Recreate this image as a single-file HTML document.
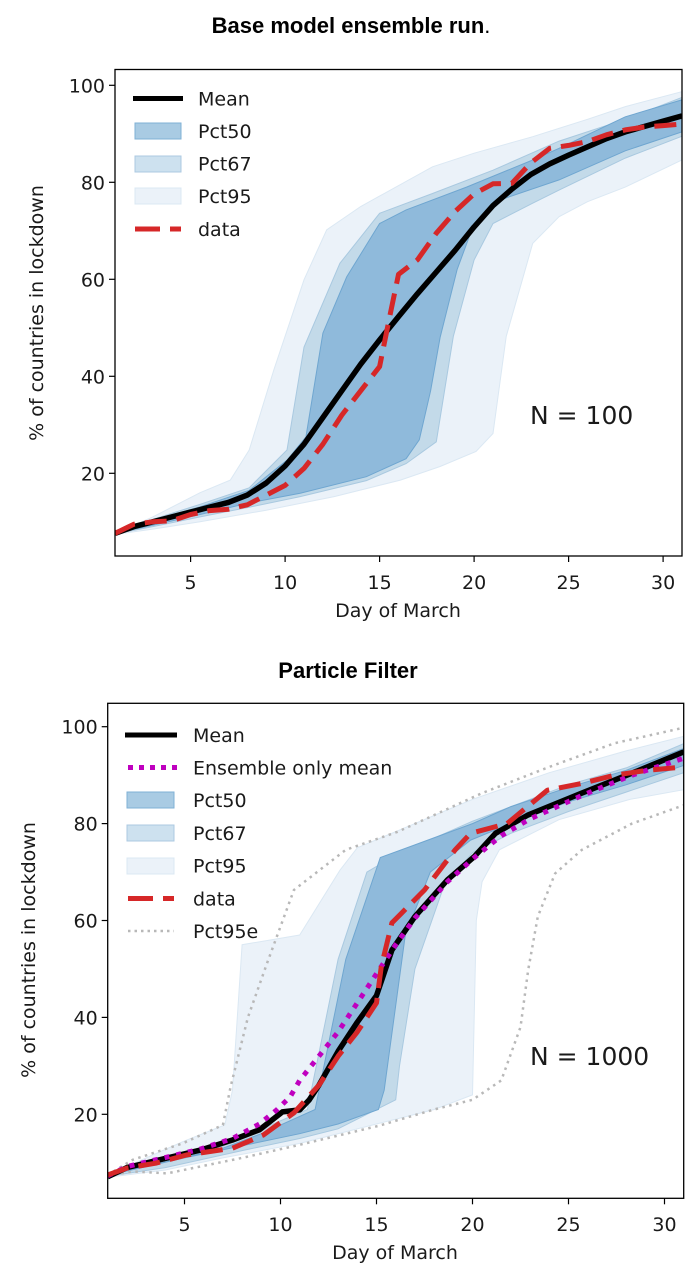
<!DOCTYPE html>
<html><head><meta charset="utf-8"><style>
html,body{margin:0;padding:0;background:#fff;}
svg{display:block;}
text{font-family:"DejaVu Sans","Liberation Sans",sans-serif;fill:#1a1a1a;}
.t{font-family:"Liberation Sans",Arial,sans-serif;font-weight:bold;font-size:22px;fill:#000;}
</style></head><body>
<svg id="s" width="696" height="1285" viewBox="0 0 696 1285" xmlns="http://www.w3.org/2000/svg">
<text class="t" x="351" y="33" text-anchor="middle">Base model ensemble run<tspan font-weight="normal">.</tspan></text>
<text class="t" x="348" y="678" text-anchor="middle">Particle Filter</text>
<defs>
<clipPath id="c1"><rect x="115" y="69.5" width="567" height="486.5"/></clipPath>
<clipPath id="c2"><rect x="107.7" y="703.3" width="576" height="495"/></clipPath>
</defs>
<g id="g1" clip-path="url(#c1)"></g>
<g id="g2" clip-path="url(#c2)"></g>
<rect x="115" y="69.5" width="567" height="486.5" fill="none" stroke="#000" stroke-width="1.3"/>
<rect x="107.7" y="703.3" width="576" height="495" fill="none" stroke="#000" stroke-width="1.3"/>
<g id="ax"></g>
<g>
<line x1="133" y1="98.5" x2="183" y2="98.5" stroke="#000" stroke-width="5"/>
<text x="198" y="105.5" font-size="19">Mean</text>
<rect x="135" y="123" width="46" height="16" fill="#a9cbe3" stroke="#7fb0d6" stroke-width="1"/>
<text x="198" y="138" font-size="19">Pct50</text>
<rect x="135" y="156" width="46" height="16" fill="#cde1ef" stroke="#acc9e2" stroke-width="1"/>
<text x="198" y="170.5" font-size="19">Pct67</text>
<rect x="135" y="188" width="46" height="16" fill="#ebf2f9" stroke="#dbe8f3" stroke-width="1"/>
<text x="198" y="203" font-size="19">Pct95</text>
<line x1="135" y1="229" x2="181" y2="229" stroke="#d62728" stroke-width="5" stroke-dasharray="25 10"/>
<text x="198" y="236" font-size="19">data</text>
</g>
<g>
<line x1="125" y1="735" x2="177" y2="735" stroke="#000" stroke-width="5"/>
<text x="193" y="742" font-size="19">Mean</text>
<line x1="128" y1="767.5" x2="177" y2="767.5" stroke="#bf00bf" stroke-width="5" stroke-dasharray="5 6"/>
<text x="193" y="774.5" font-size="19">Ensemble only mean</text>
<rect x="127" y="792" width="47" height="16" fill="#a9cbe3" stroke="#7fb0d6" stroke-width="1"/>
<text x="193" y="807" font-size="19">Pct50</text>
<rect x="127" y="825" width="47" height="16" fill="#cde1ef" stroke="#acc9e2" stroke-width="1"/>
<text x="193" y="840" font-size="19">Pct67</text>
<rect x="127" y="858" width="47" height="16" fill="#ebf2f9" stroke="#dbe8f3" stroke-width="1"/>
<text x="193" y="872.5" font-size="19">Pct95</text>
<line x1="128" y1="898.5" x2="174" y2="898.5" stroke="#d62728" stroke-width="5" stroke-dasharray="25 10"/>
<text x="193" y="905.5" font-size="19">data</text>
<line x1="128" y1="931" x2="174" y2="931" stroke="#b8b8b8" stroke-width="2.5" stroke-dasharray="2.5 4"/>
<text x="193" y="938" font-size="19">Pct95e</text>
</g>
<text x="530" y="424" font-size="25">N = 100</text>
<text x="530" y="1065" font-size="25">N = 1000</text>
<text x="398" y="617" font-size="19" text-anchor="middle">Day of March</text>
<text x="395" y="1259" font-size="19" text-anchor="middle">Day of March</text>
<text transform="translate(43,313) rotate(-90)" font-size="19" text-anchor="middle">% of countries in lockdown</text>
<text transform="translate(35,950) rotate(-90)" font-size="19" text-anchor="middle">% of countries in lockdown</text>
</svg>
<script>
var NS="http://www.w3.org/2000/svg";
function X1(d){return 115+(d-1)*18.9;} function Y1(v){return 570.3-4.85*v;}
function X2(d){return 107.7+(d-1)*19.2;} function Y2(v){return 1211.2-4.845*v;}
function pts(a,X,Y){return a.map(function(p){return X(p[0]).toFixed(1)+","+Y(p[1]).toFixed(1);}).join(" ");}
function band(g,up,lo,X,Y,fill,stroke){var p=document.createElementNS(NS,"polygon");
 p.setAttribute("points",pts(up,X,Y)+" "+pts(lo.slice().reverse(),X,Y));
 p.setAttribute("fill",fill);p.setAttribute("stroke",stroke);p.setAttribute("stroke-width","1");g.appendChild(p);}
function line(g,a,X,Y,col,w,dash,cap){var p=document.createElementNS(NS,"polyline");
 p.setAttribute("points",pts(a,X,Y));p.setAttribute("fill","none");p.setAttribute("stroke",col);
 p.setAttribute("stroke-width",w);p.setAttribute("stroke-linejoin","round");if(dash)p.setAttribute("stroke-dasharray",dash);
 if(cap)p.setAttribute("stroke-linecap",cap);g.appendChild(p);}
var g1=document.getElementById("g1"),g2=document.getElementById("g2");
var p95u=[[1,7.6],[3,11],[5.5,16],[7.1,18.6],[8.1,24.8],[9.4,41.3],[11,59.9],[12.2,70.2],[14,75],[17.8,83.2],[20,86],[23.1,89.4],[26,93],[28,95.6],[31,98.7]];
var p95l=[[1,7.4],[3,8.5],[5.5,10],[9,12.4],[12.6,15.2],[16.1,18.6],[18.2,21.4],[20.1,24.5],[21,28.2],[21.7,48.2],[23.1,67.4],[24.5,72.9],[26,76],[28,79],[31,84.6]];
var p67u=[[1,7.6],[3,10.5],[5.5,13.6],[8.1,17],[10.1,24.8],[11,46],[12.9,63.3],[15,73.6],[17.8,77.7],[21,82.5],[24.5,88.5],[28,93],[31,97.5]];
var p67l=[[1,7.5],[3,9],[5.5,11],[8.1,13],[10.8,15.2],[14.3,18.5],[16.4,22],[18,26.5],[18.9,48.2],[20,64],[21,71.5],[23.1,75.7],[24.5,78.4],[28,85],[31,89.5]];
var p50u=[[1,7.6],[3,10.3],[5.5,13.1],[8.1,16.5],[10.1,22.7],[11.1,27.5],[12,48.9],[13.26,60.5],[15,71.5],[16.4,74.3],[19.6,79],[23.1,84.6],[24.5,87],[28,93.5],[31,97]];
var p50l=[[1,7.6],[3,9.3],[5.5,11.5],[8.1,13.9],[10.8,15.9],[14.3,19.3],[16.4,23],[17.1,26.9],[17.7,37],[18.2,48],[19.1,62],[20,71.5],[21.4,76.4],[24.5,80.5],[28,86.5],[31,90.4]];
band(g1,p95u,p95l,X1,Y1,"#ebf2f9","#dbe8f3");
band(g1,p67u,p67l,X1,Y1,"#c3dae9","#a9c9e0");
band(g1,p50u,p50l,X1,Y1,"#8fbadb","#6fa6d0");
var mean1=[[1,7.6],[2,9],[3,10],[4,11],[5,12],[6,13],[7,14],[8,15.5],[9,18],[10,21.5],[11,26],[12,31.5],[13,37],[14,42.5],[15,47.5],[16,52.3],[17,57],[18,61.5],[19,66],[20,70.8],[21,75.2],[22,78.6],[23,81.6],[24,83.8],[25,85.6],[26,87.3],[27,89],[28,90.4],[29,91.5],[30,92.6],[31,93.7]];
var data1=[[1,7.6],[2,9.5],[3,10],[4,10.2],[5,11.5],[6,12.3],[7,12.6],[8,13.5],[9,15.5],[10,17.5],[11,21],[12,26],[13,32],[14,37],[15,42],[15.5,51.6],[16,61],[17,64],[18,69.5],[19,74],[20,77.6],[21,79.7],[22,79.8],[23,84],[24,87],[25,87.6],[26,88.4],[27,89.8],[28,90.8],[29,91.4],[30,91.7],[31,92]];
line(g1,mean1,X1,Y1,"#000",5.5);
line(g1,data1,X1,Y1,"#d62728",5,"22 10");
var q95u=[[1,7.4],[3,11],[5,14.5],[7.1,17.8],[7.5,25],[8,55],[11,57],[13.1,70.4],[14,75],[17,80],[20,85],[24,90.5],[28,95],[31,98]];
var q95l=[[1,7],[4,8.5],[7,11],[11,14],[15,18],[18,21],[20,24],[20.2,60],[20.5,68],[21.4,74.6],[24.5,80.8],[28.2,85],[31,87]];
var q67u=[[1,7.5],[4,10.5],[7,13.5],[9,17],[11.4,21],[13,52],[14.5,70],[16,73.5],[20,80.5],[25,88],[28,91.5],[31,96.5]];
var q67l=[[1,7.2],[4,9],[8,12.5],[11,15],[13,17],[16,23],[16.2,30],[17,50],[18.5,67],[20,74],[22,78],[25,82.5],[28,86.5],[31,90.5]];
var q50u=[[1,7.5],[4,10.2],[7,13],[9,16],[11.8,21],[13.4,52],[15.2,73],[17,75.6],[20,80],[22,83.5],[25,87.5],[28,91],[31,95.5]];
var q50l=[[1,7.4],[5,11],[8,13.5],[11,16],[13,18],[15.1,21],[15.4,25],[16.5,57],[17.8,70],[19.9,76.6],[22,80],[25,84.5],[28,88],[31,92]];
band(g2,q95u,q95l,X2,Y2,"#ebf2f9","#dbe8f3");
band(g2,q67u,q67l,X2,Y2,"#c3dae9","#a9c9e0");
band(g2,q50u,q50l,X2,Y2,"#8fbadb","#6fa6d0");
var e95u=[[1,7.5],[2.3,10.6],[4.9,14],[7,17.8],[7.4,25.7],[8.3,40],[9.3,51.2],[10.7,66.3],[13.4,74.6],[16.1,78.3],[20.5,86.3],[24,91.7],[27.4,96.6],[31,99.8]];
var e95l=[[1,7.3],[2.3,8.2],[4.1,7.8],[5.8,9.2],[8,11],[11,13.7],[15.1,17.6],[18,21],[20,23],[21.5,27],[22.5,38],[22.9,49.8],[23.4,60.8],[24.3,69.7],[25.7,74.6],[28.3,80],[31,83.8]];
line(g2,e95u,X2,Y2,"#b8b8b8",2.5,"2.5 4.5");
line(g2,e95l,X2,Y2,"#b8b8b8",2.5,"2.5 4.5");
var mean2=[[1,7.1],[2,9],[3.7,10.6],[5.8,12.6],[7.5,14.7],[8.9,16.8],[10.1,20.5],[11,20.9],[11.5,23],[12,26],[13,33],[14,39],[15,44.5],[15.8,53.9],[17,60.8],[18.7,68.4],[20.1,73.2],[21.2,78],[22.9,81.8],[25.7,86.3],[28.3,90.4],[31,94.8]];
var ens2=[[1,7.3],[2,9.2],[3.7,10.8],[5.8,12.8],[7.5,15],[8.9,18],[9.8,20.9],[10.5,23.6],[11,27],[12,32],[13,37],[14,43],[15,49],[16,55],[17,60.5],[18.7,68],[20.1,73],[21.5,77.5],[23,81],[25.7,85.8],[28.3,90],[31,93.5]];
var data2=[[1,7.5],[2,8.9],[3.5,9.9],[5.1,11.6],[7.5,13],[9.1,15.7],[10.7,20.3],[12,26],[13,32],[14,37],[15,43],[15.25,50.5],[15.8,59.5],[16.3,61.5],[17.5,66.3],[19.1,74.6],[19.9,78],[21.8,80],[23.9,86.9],[25.7,88.3],[27.4,90],[29.1,91],[31,91.7]];
line(g2,mean2,X2,Y2,"#000",5.5);
line(g2,ens2,X2,Y2,"#bf00bf",5,"5 7");
line(g2,data2,X2,Y2,"#d62728",5,"22 10");
var ax=document.getElementById("ax");
function tk(x1,y1,x2,y2){var l=document.createElementNS(NS,"line");l.setAttribute("x1",x1);l.setAttribute("y1",y1);l.setAttribute("x2",x2);l.setAttribute("y2",y2);l.setAttribute("stroke","#000");l.setAttribute("stroke-width","1.2");ax.appendChild(l);}
function tx(x,y,s,a){var t=document.createElementNS(NS,"text");t.setAttribute("x",x);t.setAttribute("y",y);t.setAttribute("font-size","19");t.setAttribute("text-anchor",a);t.textContent=s;ax.appendChild(t);}
[5,10,15,20,25,30].forEach(function(d){var x=X1(d);tk(x,556,x,562);tx(x,589,d,"middle");x=X2(d);tk(x,1198.3,x,1204.3);tx(x,1231,d,"middle");});
[20,40,60,80,100].forEach(function(v){var y=Y1(v);tk(109,y,115,y);tx(105,y+7,v,"end");y=Y2(v);tk(101.7,y,107.7,y);tx(97.7,y+7,v,"end");});
</script>
</body></html>
